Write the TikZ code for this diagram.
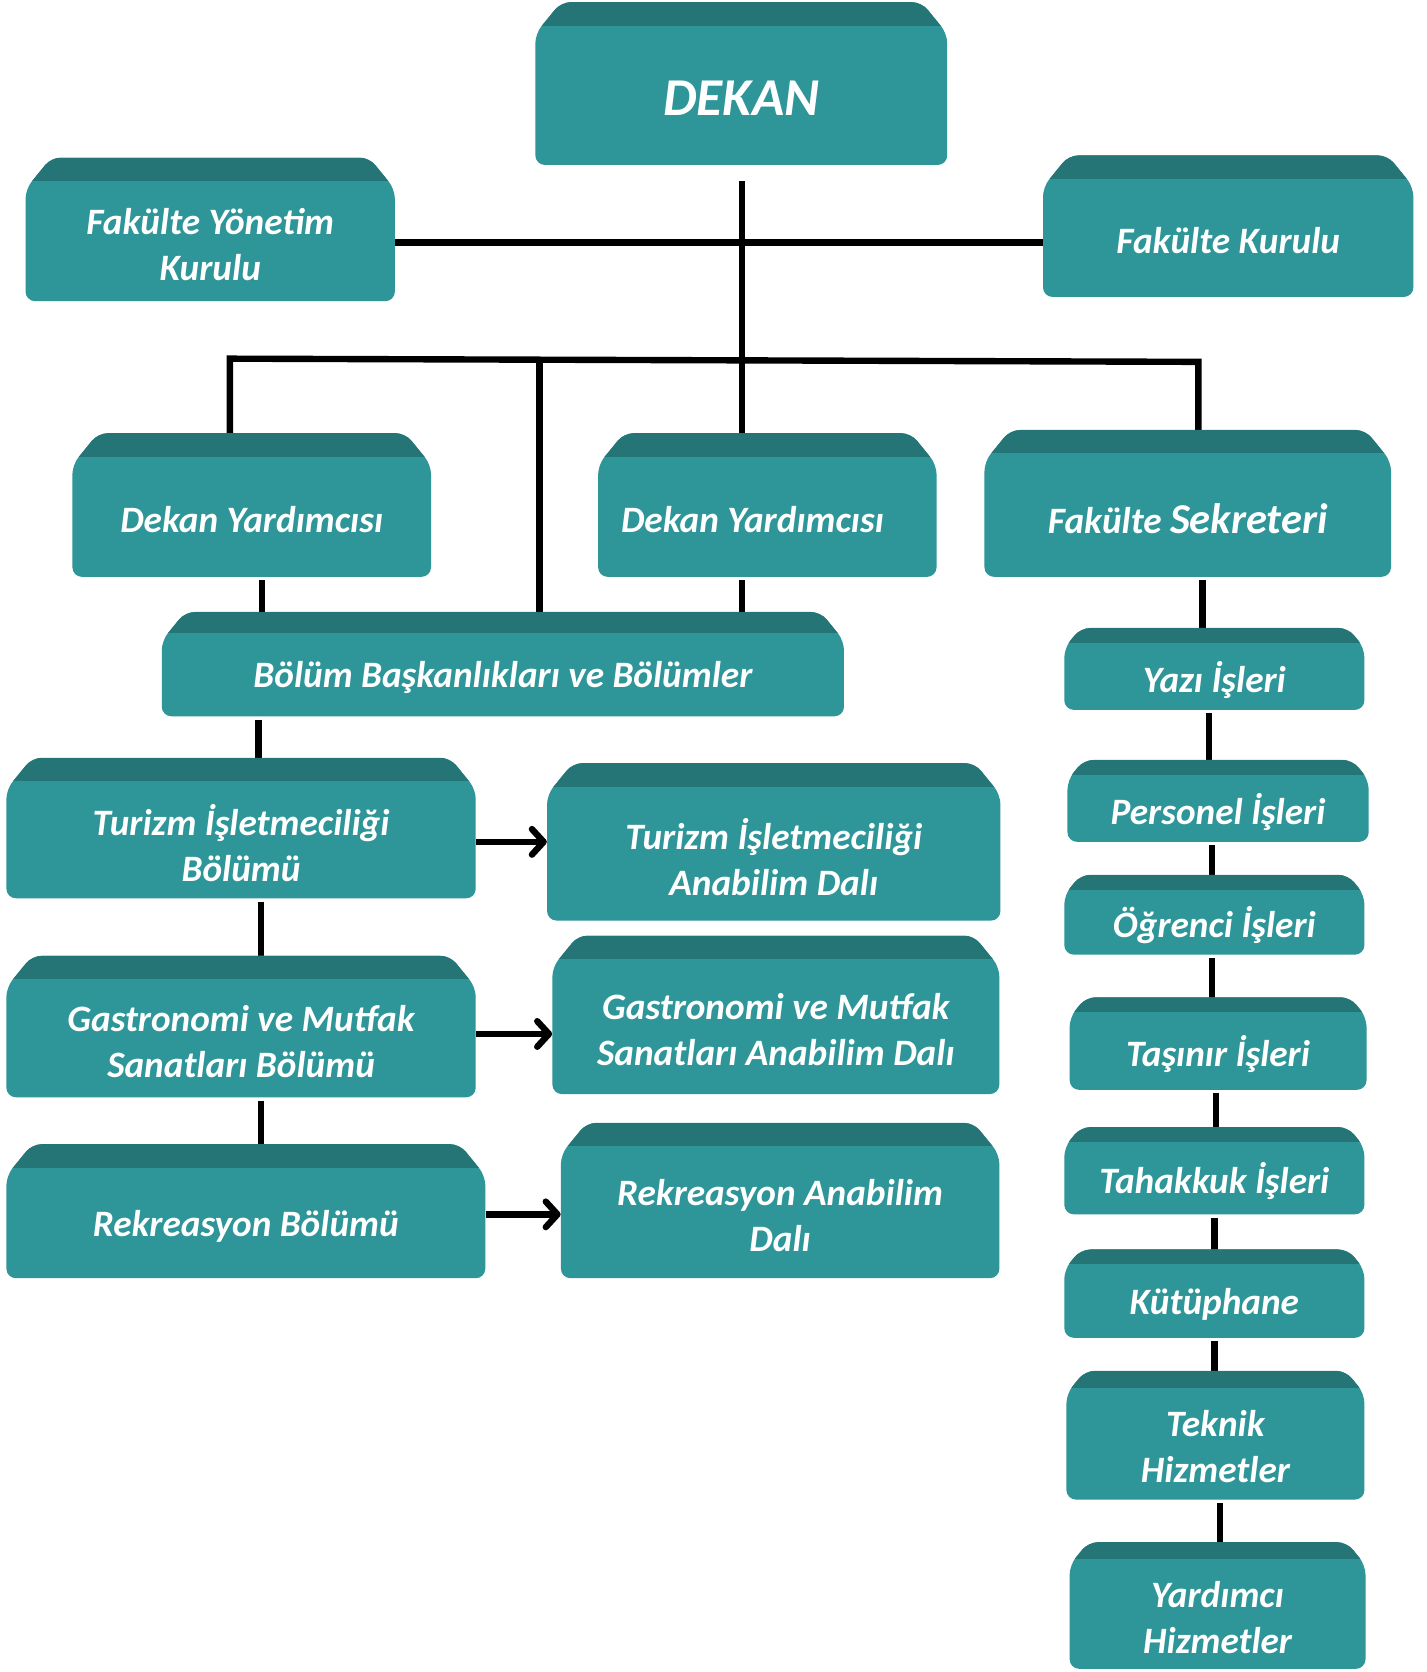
\documentclass[tikz,border=0pt]{standalone}
\usepackage{fontspec}
\setmainfont{Carlito}
\usetikzlibrary{arrows.meta}
\definecolor{boxbody}{RGB}{46,149,152}
\definecolor{boxtop}{RGB}{37,117,119}
\pgfdeclarelayer{bg}
\pgfsetlayers{bg,main}
\tikzset{
  boxtext/.style={text=white, font=\fontsize{35}{43}\selectfont\bfseries\itshape, align=center, inner sep=0pt},
  conn/.style={line width=6pt, black},
  arr/.style={line width=6pt, black, -{Straight Barb[length=11pt,width=24pt,round]}}
}
% name, x1, y1, x2, y2, text, strip
\newcommand{\orgbox}[7]{%
  \fill[boxbody, rounded corners=9pt] (#2,{#3+1.35*#7}) -- ({#2+1.1*#7},#3) -- ({#4-1.1*#7},#3) -- (#4,{#3+1.35*#7}) -- (#4,#5) -- (#2,#5) -- cycle;
  \begin{scope}
    \clip[rounded corners=9pt] (#2,{#3+1.35*#7}) -- ({#2+1.1*#7},#3) -- ({#4-1.1*#7},#3) -- (#4,{#3+1.35*#7}) -- (#4,#5) -- (#2,#5) -- cycle;
    \fill[boxtop] (#2,#3) rectangle (#4,{#3+#7});
  \end{scope}
  \node[boxtext, minimum width={#4-#2}, minimum height={#5-#3-#7}] (#1) at ({(#2+#4)/2},{(#3+#7+#5)/2+3}) {#6};
}
\begin{document}
\begin{tikzpicture}[x=1pt,y=-1pt]
\begin{pgfonlayer}{bg}
\useasboundingbox[fill=white] (0,0) rectangle (1340,1568);
\end{pgfonlayer}

\orgbox{dekan}{503}{2}{890}{155}{\fontsize{50}{54}\selectfont DEKAN}{22}
\orgbox{fyk}{24}{148}{371}{283}{Fakülte Yönetim\\Kurulu}{22}
\orgbox{fk}{980}{146}{1328}{279}{Fakülte Kurulu}{22}
\orgbox{dy1}{68}{407}{405}{542}{Dekan Yardımcısı}{22}
\orgbox{dy2}{562}{407}{880}{542}{Dekan Yardımcısı\hspace*{28pt}}{22}
\orgbox{sek}{925}{404}{1307}{542}{Fakülte {\fontsize{40}{43}\selectfont Sekreteri}}{22}
\orgbox{bolum}{152}{575}{793}{673}{Bölüm Başkanlıkları ve Bölümler}{20}
\orgbox{tb}{6}{712}{447}{844}{Turizm İşletmeciliği\\Bölümü}{22}
\orgbox{ta}{514}{717}{940}{865}{Turizm İşletmeciliği\\Anabilim Dalı}{22}
\orgbox{gb}{6}{898}{447}{1031}{Gastronomi ve Mutfak\\Sanatları Bölümü}{22}
\orgbox{ga}{519}{879}{939}{1028}{Gastronomi ve Mutfak\\Sanatları Anabilim Dalı}{22}
\orgbox{rb}{6}{1075}{456}{1201}{Rekreasyon Bölümü}{22}
\orgbox{ra}{527}{1055}{939}{1201}{Rekreasyon Anabilim\\Dalı}{22}

\orgbox{yazi}{1000}{590}{1282}{667}{Yazı İşleri}{14}
\orgbox{pers}{1003}{714}{1286}{791}{Personel İşleri}{14}
\orgbox{ogr}{1000}{822}{1282}{897}{Öğrenci İşleri}{14}
\orgbox{tas}{1005}{937}{1284}{1024}{Taşınır İşleri}{14}
\orgbox{tah}{1000}{1059}{1282}{1141}{Tahakkuk İşleri}{14}
\orgbox{kut}{1000}{1174}{1282}{1257}{Kütüphane}{14}
\orgbox{tek}{1002}{1288}{1282}{1409}{Teknik\\Hizmetler}{16}
\orgbox{yar}{1005}{1449}{1283}{1568}{Yardımcı\\Hizmetler}{16}

\coordinate (d0) at (697,170);
\coordinate (d1) at (697,228);
\coordinate (b1) at (216,337);
\coordinate (b2) at (507,338);
\coordinate (b4) at (1126,340);
\coordinate (c1) at (246,0);
\coordinate (c2) at (697,0);
\coordinate (c3) at (1130,0);
\coordinate (c4) at (243,0);
\coordinate (c5) at (245,0);

\begin{pgfonlayer}{bg}
\draw[conn] (d0) -- (d0 |- dy2.north);
\draw[conn] (fyk.east |- d1) -- (fk.west |- d1);
\draw[conn] (dy1.north -| b1) -- (b1) -- (b4) -- (sek.north -| b4);
\draw[conn] (b2) -- (bolum.north -| b2);
\draw[conn] (dy1.south -| c1) -- (bolum.north -| c1);
\draw[conn] (dy2.south -| c2) -- (bolum.north -| c2);
\draw[conn] (sek.south -| c3) -- (yazi.north -| c3);
\draw[conn] (bolum.south -| c4) -- (tb.north -| c4);
\draw[conn] (tb.south -| c5) -- (gb.north -| c5);
\draw[conn] (gb.south -| c5) -- (rb.north -| c5);
\draw[conn] ([xshift=-5pt]yazi.south) -- ([xshift=-5pt]yazi.south |- pers.north);
\draw[conn] ([xshift=-6pt]pers.south) -- ([xshift=-6pt]pers.south |- ogr.north);
\draw[conn] ([xshift=-2pt]ogr.south) -- ([xshift=-2pt]ogr.south |- tas.north);
\draw[conn] ([xshift=-2pt]tas.south) -- ([xshift=-2pt]tas.south |- tah.north);
\draw[conn] (tah.south) -- (tah.south |- kut.north);
\draw[conn] (kut.south) -- (kut.south |- tek.north);
\draw[conn] ([xshift=4pt]tek.south) -- ([xshift=4pt]tek.south |- yar.north);
\end{pgfonlayer}

\draw[arr] ([yshift=1pt]tb.east) -- ([yshift=1pt]tb.east -| ta.west);
\draw[arr] ([yshift=7pt]gb.east) -- ([yshift=7pt]gb.east -| ga.west);
\draw[arr] ([yshift=11pt]rb.east) -- ([yshift=11pt]rb.east -| ra.west);
\end{tikzpicture}
\end{document}
